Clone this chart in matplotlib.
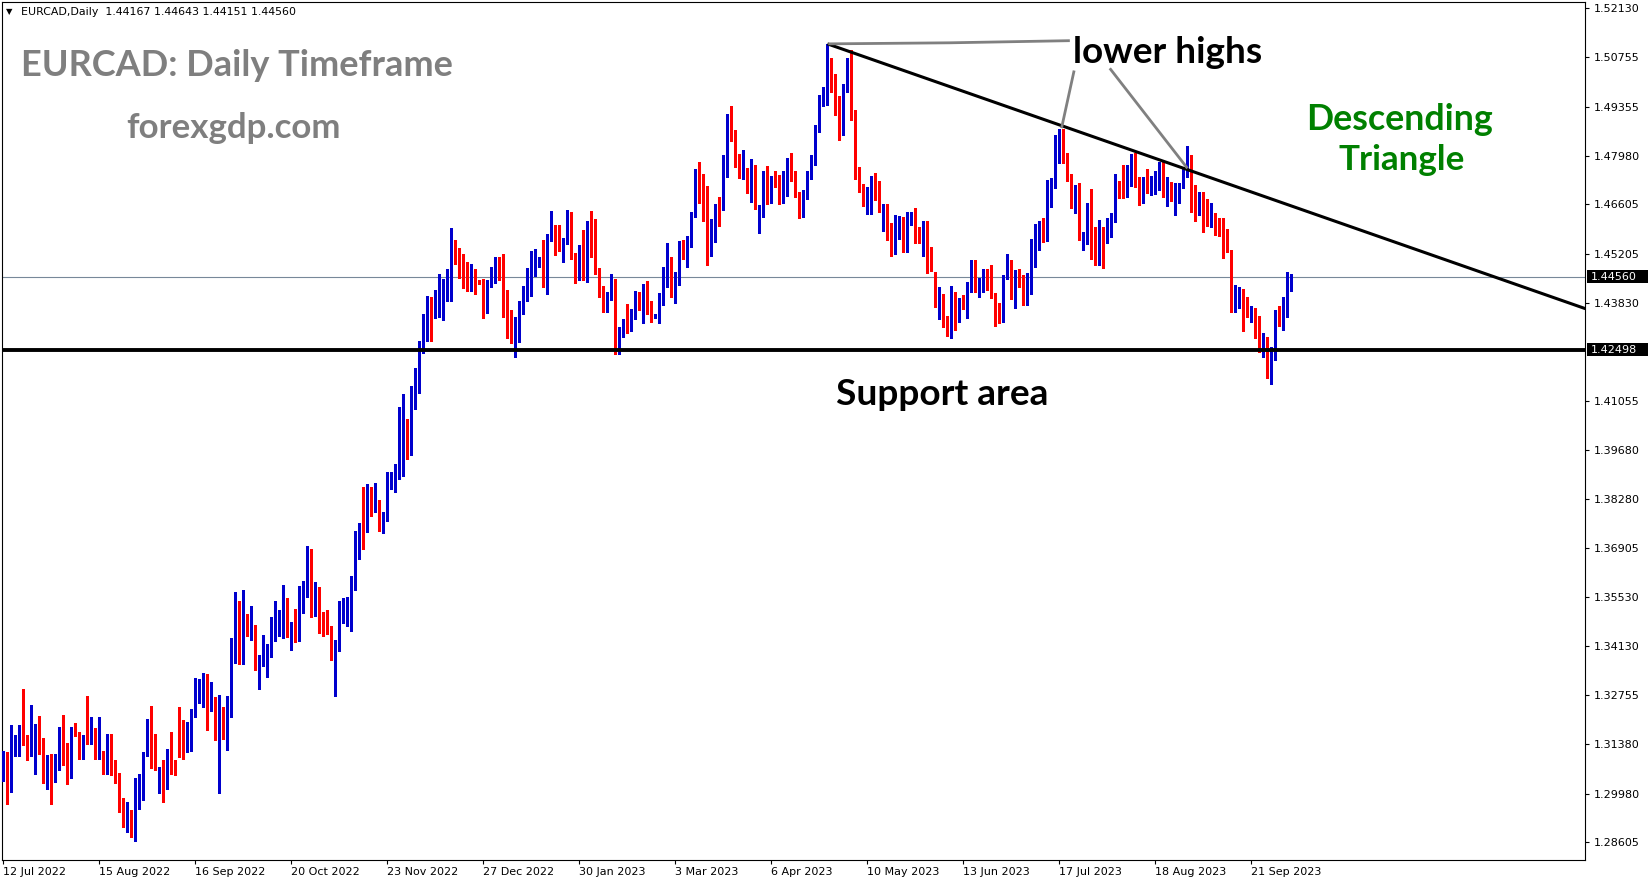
import matplotlib
matplotlib.use("Agg")
import matplotlib.pyplot as plt
from matplotlib.patches import Rectangle

# ---------------- data ----------------
opens = [
1.3038,1.3070,1.3049,1.3135,1.3124,1.3165,1.3157,1.3108,1.3159,1.3195,
1.3124,1.3029,1.3081,1.3057,1.3089,1.3177,1.3093,1.3049,1.3182,1.3158,
1.3097,1.3161,1.3154,1.3170,1.3100,1.3110,1.3060,1.3140,1.3062,1.3037,
1.2980,1.2910,1.2921,1.2888,1.2984,1.3002,1.3108,1.3198,1.3076,1.3030,
1.3049,1.3020,1.3130,1.3083,1.3168,1.3140,1.3126,1.3135,1.3218,1.3263,
1.3276,1.3328,1.3236,1.3263,1.3148,1.3195,1.3162,1.3241,1.3421,1.3521,
1.3381,1.3492,1.3432,1.3456,1.3360,1.3359,1.3386,1.3397,1.3438,1.3486,
1.3489,1.3537,1.3446,1.3467,1.3452,1.3529,1.3554,1.3651,1.3511,1.3554,
1.3461,1.3457,1.3454,1.3398,1.3403,1.3519,1.3519,1.3535,1.3591,1.3702,
1.3745,1.3740,1.3848,1.3805,1.3796,1.3770,1.3769,1.3877,1.3880,1.3889,
1.3945,1.4019,1.3959,1.4131,1.4168,1.4253,1.4285,1.4342,1.4345,1.4347,
1.4358,1.4400,1.4468,1.4513,1.4477,1.4474,1.4458,1.4436,1.4460,1.4443,
1.4443,1.4373,1.4430,1.4441,1.4505,1.4464,1.4415,1.4290,1.4271,1.4288,
1.4358,1.4408,1.4434,1.4483,1.4488,1.4509,1.4438,1.4559,1.4582,1.4535,
1.4532,1.4551,1.4612,1.4507,1.4448,1.4521,1.4446,1.4601,1.4524,1.4468,
1.4427,1.4364,1.4392,1.4438,1.4253,1.4288,1.4318,1.4304,1.4359,1.4401,
1.4370,1.4410,1.4370,1.4342,1.4342,1.4391,1.4429,1.4497,1.4401,1.4436,
1.4536,1.4501,1.4552,1.4627,1.4779,1.4729,1.4684,1.4555,1.4557,1.4650,
1.4647,1.4764,1.4904,1.4850,1.4791,1.4738,1.4740,1.4693,1.4743,1.4630,
1.4640,1.4718,1.4668,1.4729,1.4731,1.4670,1.4687,1.4767,1.4732,1.4687,
1.4629,1.4689,1.4736,1.4774,1.4865,1.4947,1.4943,1.5036,1.4990,1.4922,
1.4858,1.4980,1.5046,1.4900,1.4748,1.4717,1.4666,1.4679,1.4726,1.4693,
1.4639,1.4634,1.4583,1.4543,1.4588,1.4602,1.4543,1.4616,1.4628,1.4590,
1.4552,1.4597,1.4496,1.4468,1.4362,1.4392,1.4330,1.4297,1.4397,1.4334,
1.4374,1.4367,1.4416,1.4466,1.4428,1.4424,1.4466,1.4461,1.4407,1.4367,
1.4342,1.4457,1.4463,1.4393,1.4461,1.4438,1.4379,1.4408,1.4546,1.4534,
1.4607,1.4558,1.4673,1.4707,1.4816,1.4830,1.4776,1.4743,1.4657,1.4707,
1.4553,1.4550,1.4640,1.4588,1.4497,1.4588,1.4574,1.4597,1.4613,1.4706,
1.4706,1.4692,1.4724,1.4767,1.4698,1.4685,1.4718,1.4706,1.4692,1.4706,
1.4762,1.4677,1.4689,1.4675,1.4671,1.4710,1.4741,1.4762,1.4644,1.4640,
1.4668,1.4621,1.4621,1.4623,1.4593,1.4588,1.4571,1.4529,1.4358,1.4403,
1.4403,1.4356,1.4344,1.4351,1.4344,1.4231,1.4284,1.4179,1.4238,1.4337,
1.4308,1.4344,1.44167]

highs = [
1.3119,1.3116,1.3191,1.3162,1.3191,1.3294,1.3162,1.3249,1.3195,1.3218,
1.3155,1.3106,1.3110,1.3110,1.3186,1.3219,1.3140,1.3186,1.3197,1.3171,
1.3164,1.3273,1.3214,1.3182,1.3213,1.3119,1.3165,1.3165,1.3092,1.3056,
1.2987,1.2975,1.2952,1.3043,1.3054,1.3116,1.3208,1.3245,1.3167,1.3074,
1.3094,1.3124,1.3173,1.3094,1.3243,1.3205,1.3200,1.3238,1.3324,1.3321,
1.3337,1.3335,1.3314,1.3271,1.3276,1.3243,1.3272,1.3438,1.3566,1.3542,
1.3573,1.3506,1.3527,1.3475,1.3389,1.3446,1.3421,1.3497,1.3540,1.3516,
1.3587,1.3551,1.3483,1.3519,1.3583,1.3597,1.3697,1.3689,1.3594,1.3581,
1.3511,1.3516,1.3470,1.3432,1.3542,1.3551,1.3553,1.3611,1.3738,1.3762,
1.3864,1.3872,1.3862,1.3875,1.3826,1.3791,1.3904,1.3904,1.3929,1.4088,
1.4126,1.4055,1.4147,1.4199,1.4275,1.4351,1.4403,1.4400,1.4419,1.4463,
1.4450,1.4479,1.4593,1.4561,1.4537,1.4521,1.4497,1.4493,1.4479,1.4446,
1.4450,1.4446,1.4483,1.4512,1.4512,1.4519,1.4418,1.4361,1.4342,1.4389,
1.4431,1.4480,1.4530,1.4535,1.4512,1.4559,1.4578,1.4641,1.4601,1.4601,
1.4566,1.4643,1.4639,1.4523,1.4545,1.4587,1.4613,1.4641,1.4620,1.4480,
1.4431,1.4413,1.4463,1.4450,1.4314,1.4337,1.4378,1.4366,1.4415,1.4413,
1.4436,1.4443,1.4387,1.4351,1.4410,1.4483,1.4551,1.4512,1.4469,1.4557,
1.4560,1.4571,1.4640,1.4760,1.4781,1.4746,1.4712,1.4619,1.4661,1.4682,
1.4800,1.4915,1.4938,1.4870,1.4802,1.4814,1.4762,1.4788,1.4771,1.4659,
1.4755,1.4768,1.4741,1.4754,1.4743,1.4754,1.4792,1.4804,1.4754,1.4696,
1.4701,1.4753,1.4800,1.4884,1.4969,1.4992,1.5114,1.5074,1.5027,1.4966,
1.4999,1.5074,1.5096,1.4926,1.4767,1.4719,1.4710,1.4741,1.4750,1.4727,
1.4661,1.4661,1.4609,1.4630,1.4628,1.4626,1.4638,1.4639,1.4649,1.4597,
1.4614,1.4613,1.4541,1.4470,1.4428,1.4407,1.4344,1.4430,1.4414,1.4395,
1.4405,1.4440,1.4503,1.4502,1.4452,1.4478,1.4477,1.4489,1.4410,1.4381,
1.4461,1.4520,1.4503,1.4475,1.4477,1.4461,1.4466,1.4562,1.4605,1.4612,
1.4621,1.4729,1.4734,1.4856,1.4873,1.4873,1.4804,1.4745,1.4715,1.4720,
1.4583,1.4663,1.4703,1.4597,1.4616,1.4597,1.4621,1.4637,1.4746,1.4726,
1.4771,1.4771,1.4801,1.4804,1.4738,1.4738,1.4759,1.4741,1.4755,1.4781,
1.4781,1.4738,1.4722,1.4720,1.4720,1.4767,1.4825,1.4800,1.4715,1.4696,
1.4696,1.4675,1.4663,1.4635,1.4621,1.4621,1.4590,1.4532,1.4433,1.4428,
1.4422,1.4398,1.4374,1.4369,1.4346,1.4297,1.4286,1.4259,1.4362,1.4374,
1.4398,1.4469,1.44643]

lows = [
1.3033,1.2970,1.3002,1.3105,1.3103,1.3135,1.3094,1.3103,1.3052,1.3111,
1.3027,1.3011,1.2968,1.3030,1.3065,1.3078,1.3025,1.3043,1.3160,1.3097,
1.3095,1.3138,1.3138,1.3097,1.3095,1.3052,1.3054,1.3051,1.3027,1.2946,
1.2905,1.2889,1.2876,1.2864,1.2954,1.2981,1.3105,1.3070,1.3065,1.3000,
1.2975,1.3011,1.3052,1.3051,1.3100,1.3095,1.3114,1.3119,1.3214,1.3254,
1.3243,1.3178,1.3232,1.3149,1.3000,1.3151,1.3121,1.3213,1.3367,1.3364,
1.3364,1.3443,1.3430,1.3346,1.3292,1.3357,1.3327,1.3384,1.3429,1.3443,
1.3438,1.3440,1.3402,1.3427,1.3429,1.3508,1.3552,1.3497,1.3500,1.3452,
1.3443,1.3448,1.3375,1.3272,1.3400,1.3478,1.3472,1.3457,1.3571,1.3659,
1.3688,1.3737,1.3780,1.3791,1.3738,1.3732,1.3767,1.3857,1.3850,1.3886,
1.3893,1.3943,1.3953,1.4082,1.4129,1.4240,1.4276,1.4276,1.4340,1.4342,
1.4333,1.4387,1.4389,1.4493,1.4453,1.4424,1.4417,1.4417,1.4408,1.4436,
1.4339,1.4354,1.4427,1.4439,1.4448,1.4342,1.4283,1.4268,1.4231,1.4271,
1.4351,1.4389,1.4401,1.4457,1.4483,1.4427,1.4406,1.4557,1.4516,1.4530,
1.4497,1.4549,1.4507,1.4438,1.4446,1.4446,1.4441,1.4512,1.4464,1.4398,
1.4358,1.4356,1.4390,1.4238,1.4238,1.4286,1.4297,1.4302,1.4337,1.4361,
1.4325,1.4351,1.4328,1.4339,1.4325,1.4375,1.4427,1.4400,1.4382,1.4434,
1.4505,1.4484,1.4541,1.4626,1.4665,1.4614,1.4489,1.4515,1.4555,1.4600,
1.4645,1.4738,1.4839,1.4767,1.4736,1.4732,1.4693,1.4668,1.4646,1.4579,
1.4624,1.4661,1.4663,1.4710,1.4661,1.4663,1.4685,1.4727,1.4682,1.4623,
1.4626,1.4675,1.4732,1.4772,1.4863,1.4939,1.4940,1.4978,1.4912,1.4842,
1.4856,1.4978,1.4898,1.4732,1.4696,1.4656,1.4632,1.4632,1.4673,1.4638,
1.4586,1.4560,1.4515,1.4520,1.4562,1.4527,1.4527,1.4602,1.4551,1.4551,
1.4515,1.4466,1.4473,1.4372,1.4336,1.4315,1.4289,1.4283,1.4306,1.4328,
1.4364,1.4339,1.4414,1.4414,1.4398,1.4414,1.4419,1.4395,1.4318,1.4325,
1.4327,1.4449,1.4393,1.4367,1.4428,1.4377,1.4377,1.4406,1.4483,1.4532,
1.4553,1.4556,1.4654,1.4706,1.4776,1.4778,1.4726,1.4649,1.4635,1.4560,
1.4532,1.4548,1.4505,1.4488,1.4489,1.4480,1.4550,1.4569,1.4611,1.4677,
1.4677,1.4682,1.4712,1.4708,1.4659,1.4663,1.4692,1.4687,1.4690,1.4701,
1.4682,1.4657,1.4671,1.4629,1.4663,1.4706,1.4738,1.4638,1.4612,1.4630,
1.4583,1.4598,1.4595,1.4574,1.4571,1.4508,1.4527,1.4356,1.4356,1.4367,
1.4304,1.4342,1.4327,1.4282,1.4243,1.4229,1.4170,1.4153,1.4220,1.4317,
1.4306,1.4342,1.44151]

closes = [
1.3114,1.3043,1.3138,1.3138,1.3165,1.3159,1.3108,1.3160,1.3189,1.3122,
1.3029,1.3074,1.3057,1.3088,1.3177,1.3094,1.3049,1.3182,1.3164,1.3103,
1.3158,1.3150,1.3170,1.3100,1.3108,1.3060,1.3140,1.3057,1.3043,1.2979,
1.2908,1.2921,1.2889,1.2997,1.3006,1.3110,1.3200,1.3078,1.3067,1.3049,
1.3019,1.3121,1.3085,1.3080,1.3138,1.3127,1.3138,1.3222,1.3286,1.3279,
1.3324,1.3236,1.3265,1.3166,1.3195,1.3159,1.3243,1.3427,1.3556,1.3384,
1.3486,1.3446,1.3458,1.3378,1.3364,1.3389,1.3403,1.3446,1.3495,1.3497,
1.3537,1.3443,1.3470,1.3457,1.3532,1.3558,1.3667,1.3516,1.3560,1.3454,
1.3454,1.3454,1.3398,1.3427,1.3521,1.3526,1.3537,1.3600,1.3721,1.3753,
1.3740,1.3853,1.3807,1.3819,1.3759,1.3775,1.3880,1.3884,1.3904,1.3954,
1.4024,1.3951,1.4137,1.4192,1.4256,1.4284,1.4342,1.4337,1.4375,1.4370,
1.4401,1.4471,1.4509,1.4499,1.4469,1.4457,1.4436,1.4463,1.4436,1.4438,
1.4384,1.4438,1.4443,1.4505,1.4476,1.4413,1.4287,1.4273,1.4307,1.4370,
1.4410,1.4441,1.4510,1.4509,1.4509,1.4443,1.4565,1.4582,1.4523,1.4532,
1.4556,1.4618,1.4509,1.4460,1.4524,1.4448,1.4601,1.4526,1.4466,1.4417,
1.4370,1.4406,1.4452,1.4253,1.4299,1.4318,1.4311,1.4361,1.4410,1.4366,
1.4411,1.4366,1.4353,1.4347,1.4406,1.4431,1.4502,1.4403,1.4457,1.4542,
1.4510,1.4553,1.4633,1.4708,1.4729,1.4685,1.4555,1.4560,1.4647,1.4644,
1.4763,1.4912,1.4848,1.4780,1.4746,1.4746,1.4701,1.4746,1.4651,1.4654,
1.4732,1.4673,1.4732,1.4718,1.4670,1.4694,1.4774,1.4737,1.4685,1.4635,
1.4692,1.4746,1.4783,1.4881,1.4957,1.4955,1.5056,1.4990,1.4919,1.4865,
1.4985,1.5060,1.4906,1.4736,1.4717,1.4673,1.4687,1.4726,1.4707,1.4642,
1.4642,1.4585,1.4543,1.4585,1.4605,1.4543,1.4616,1.4637,1.4604,1.4553,
1.4599,1.4503,1.4475,1.4377,1.4421,1.4327,1.4301,1.4402,1.4339,1.4379,
1.4370,1.4433,1.4472,1.4424,1.4430,1.4447,1.4449,1.4403,1.4358,1.4342,
1.4455,1.4463,1.4395,1.4452,1.4445,1.4381,1.4412,1.4557,1.4558,1.4607,
1.4555,1.4673,1.4729,1.4839,1.4830,1.4779,1.4741,1.4654,1.4707,1.4562,
1.4557,1.4637,1.4511,1.4497,1.4588,1.4482,1.4599,1.4619,1.4732,1.4701,
1.4696,1.4726,1.4759,1.4710,1.4675,1.4713,1.4713,1.4722,1.4724,1.4753,
1.4692,1.4692,1.4685,1.4682,1.4710,1.4741,1.4776,1.4640,1.4637,1.4673,
1.4616,1.4614,1.4630,1.4593,1.4588,1.4571,1.4532,1.4358,1.4419,1.4412,
1.4358,1.4344,1.4372,1.4344,1.4245,1.4285,1.4174,1.4235,1.4342,1.4323,
1.4345,1.4433,1.44560]

date_ticks = [0, 24, 48, 72, 96, 120, 144, 168, 192, 216, 240, 264, 288, 312]
date_labels = ["12 Jul 2022", "15 Aug 2022", "16 Sep 2022", "20 Oct 2022",
               "23 Nov 2022", "27 Dec 2022", "30 Jan 2023", "3 Mar 2023",
               "6 Apr 2023", "10 May 2023", "13 Jun 2023", "17 Jul 2023",
               "18 Aug 2023", "21 Sep 2023"]
price_ticks = [1.52130, 1.50755, 1.49355, 1.47980, 1.46605, 1.45205, 1.43830,
               1.41055, 1.39680, 1.38280, 1.36905, 1.35530, 1.34130, 1.32755,
               1.31380, 1.29980, 1.28605]
support_level = 1.42498
last_price = 1.44560
trend_x = [206, 395.5]
trend_y = [1.5113, 1.4366]
header = "EURCAD,Daily  1.44167 1.44643 1.44151 1.44560"

# ---------------- figure ----------------
W, H = 1649, 884
fig = plt.figure(figsize=(W / 100, H / 100), dpi=100)
fig.patch.set_facecolor("white")
ax = fig.add_axes([2 / W, (H - 860) / H, (1585 - 2) / W, (860 - 2) / H])
ax.set_xlim(-0.375, 395.4)
ax.set_ylim(1.28107, 1.52311)

BLUE = "#0000CD"
RED = "#FF0000"
n = len(closes)
xs = list(range(n))
cols = [BLUE if closes[i] >= opens[i] else RED for i in xs]
ax.vlines(xs, lows, highs, colors=cols, linewidth=0.9, antialiased=False, zorder=3)
bottoms = [min(opens[i], closes[i]) for i in xs]
heights = [max(abs(closes[i] - opens[i]), 0.0003) for i in xs]
ax.bar(xs, heights, bottom=bottoms, width=0.8, color=cols, linewidth=0,
       antialiased=False, zorder=4)

# horizontal lines
ax.axhline(last_price, color="#778899", lw=0.8, zorder=2)
ax.axhline(support_level, color="black", lw=2.8, zorder=5)
# descending trend line
ax.plot(trend_x, trend_y, color="black", lw=2.2, zorder=5, solid_capstyle="butt")

# gray annotation pointer lines
ax.plot([206.2, 236.6, 266.6], [1.5113, 1.5116, 1.5122], color="#808080", lw=2.0,
        zorder=6, solid_capstyle="butt")
ax.plot([267.6, 264.6], [1.5034, 1.4879], color="#808080", lw=2.0, zorder=6)
ax.plot([276.8, 295.8], [1.5041, 1.4765], color="#808080", lw=2.0, zorder=6)

# axes styling
for s in ax.spines.values():
    s.set_color("black")
    s.set_linewidth(0.8)
ax.yaxis.tick_right()
ax.set_yticks(price_ticks)
ax.set_yticklabels([f"{v:.5f}" for v in price_ticks])
ax.set_xticks(date_ticks)
ax.set_xticklabels(date_labels)
ax.tick_params(axis="y", direction="out", length=3, width=0.8, pad=3,
               labelsize=8, colors="black")
ax.tick_params(axis="x", direction="out", length=3, width=0.8, pad=2,
               labelsize=8, colors="black")
for lab in ax.get_xticklabels():
    lab.set_horizontalalignment("left")

# price boxes on the right axis
def price_box(val):
    yfig = ax.transData.transform((0, val))[1]
    fig.patches.append(Rectangle((1587 / W, (yfig - 6.5) / H), 61 / W, 13 / H,
                                 transform=fig.transFigure, facecolor="black",
                                 edgecolor="none", zorder=10))
    fig.text(1591 / W, yfig / H, f"{val:.5f}", color="white", fontsize=8,
             va="center", ha="left", zorder=11)

price_box(last_price)
price_box(support_level)

# ---------------- text annotations ----------------
renderer = fig.canvas.get_renderer()

def fit_text(cx, base_y, s, target_w, **kw):
    t = fig.text(cx / W, 1 - base_y / H, s, ha="center", va="baseline",
                 fontsize=20, **kw)
    bb = t.get_window_extent(renderer)
    t.set_fontsize(20 * target_w / bb.width)
    return t

FONT = ["Lato", "DejaVu Sans"]
fit_text(236.7, 76, "EURCAD: Daily Timeframe", 432, color="#7F7F7F",
         fontweight="bold", family=FONT)
fit_text(234, 138, "forexgdp.com", 215, color="#7F7F7F", fontweight="bold",
         family=FONT)
fit_text(1167.5, 63, "lower highs", 189, color="black", fontweight="bold",
         family=FONT)
fit_text(1400, 130, "Descending", 187, color="#008000", fontweight="bold",
         family=FONT)
fit_text(1402, 170, "Triangle", 126, color="#008000", fontweight="bold",
         family=FONT)
fit_text(942, 405, "Support area", 212, color="black", fontweight="bold",
         family=FONT)

# header line
fig.text(6 / W, 1 - 12 / H, "\u25BC", fontsize=6, va="center", ha="left",
         color="black")
ht = fig.text(21 / W, 1 - 12 / H, header, fontsize=8, va="center", ha="left",
              color="black")
bb = ht.get_window_extent(renderer)
ht.set_fontsize(8 * 275 / bb.width)

fig.savefig("out.png", dpi=100, facecolor="white")
